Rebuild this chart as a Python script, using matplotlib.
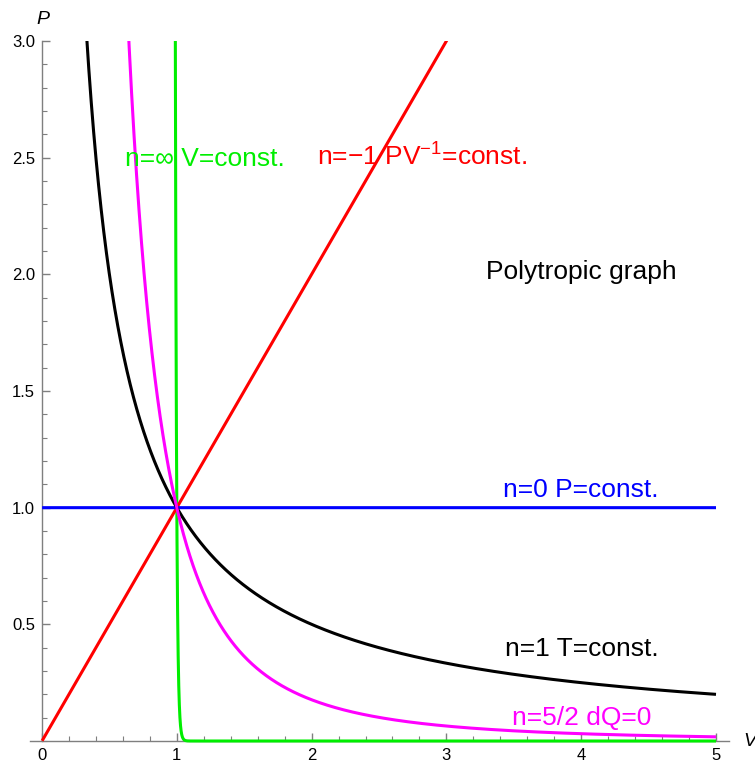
import numpy as np
import matplotlib
matplotlib.use("Agg")
import matplotlib.pyplot as plt
from matplotlib.ticker import MultipleLocator

plt.rcParams['font.family'] = ['Liberation Sans', 'DejaVu Sans']
plt.rcParams['mathtext.fontset'] = 'custom'
plt.rcParams['mathtext.rm'] = 'Liberation Sans'
plt.rcParams['mathtext.it'] = 'Liberation Sans:italic'
plt.rcParams['mathtext.default'] = 'regular'

# Polytropic exponents (P * V^n = const, through (1,1)); n=inf approximated by large n
exponents = [100, -1, 0, 1, 2.5]
colors = ['#00ee00', '#ff0000', '#0000ff', '#000000', '#ff00ff']
labels = ['n=\u221e V=const.', 'n=\u22121 PV$^{-1}$=const.', 'n=0 P=const.',
          'n=1 T=const.', 'n=5/2 dQ=0']
# label anchor (left, baseline) in pixels of the 755x765 figure
label_px = [(125, 166), (317, 166), (503, 497), (505, 656), (512, 725)]

title_text = 'Polytropic graph'
title_px = (486, 279)

x_ticks = [0, 1, 2, 3, 4, 5]
y_ticks = [0.5, 1.0, 1.5, 2.0, 2.5, 3.0]

W, H = 755, 765
fig = plt.figure(figsize=(W / 100, H / 100), dpi=100)
x0px, xs = 42, 134.8
y0px, ys = 741, 233.33
xmin, xmax = -0.09, 5.1
ymin, ymax = -0.05, 3.0
left = (x0px + xs * xmin) / W
right = (x0px + xs * xmax) / W
bottom = 1 - (y0px - ys * ymin) / H
top = 1 - (y0px - ys * ymax) / H
ax = fig.add_axes([left, bottom, right - left, top - bottom])
ax.set_xlim(xmin, xmax)
ax.set_ylim(ymin, ymax)

V = np.concatenate([np.linspace(0.001, 0.97, 2000), np.linspace(0.97, 1.2, 6000),
                    np.linspace(1.2, 5, 2000)])
for n, c in zip(exponents, colors):
    with np.errstate(over='ignore'):
        P = V ** (-float(n))
    P = np.where(P > 3.5, np.nan, P) if n > 0 else P
    ax.plot(V, P, color=c, lw=2.2, solid_capstyle='butt', zorder=3)

gray = '#7f7f7f'
for s in ['top', 'right']:
    ax.spines[s].set_visible(False)
ax.spines['left'].set_position(('data', 0))
ax.spines['bottom'].set_position(('data', 0))
ax.spines['left'].set_bounds(0, 3)
ax.spines['bottom'].set_bounds(xmin, xmax)
for s in ['left', 'bottom']:
    ax.spines[s].set_color(gray)
    ax.spines[s].set_linewidth(1.0)
    ax.spines[s].set_zorder(1)

ax.set_xticks(x_ticks)
ax.set_xticklabels([str(t) for t in x_ticks])
ax.set_yticks(y_ticks)
ax.set_yticklabels([f'{t:.1f}' for t in y_ticks])
ax.xaxis.set_minor_locator(MultipleLocator(0.2))
ax.yaxis.set_minor_locator(MultipleLocator(0.1))
ax.tick_params(which='major', direction='in', length=6, width=1, color=gray,
               labelsize=12, labelcolor='black', pad=5)
ax.tick_params(which='minor', direction='in', length=3.5, width=0.8, color=gray)
ax.patch.set_visible(False)

for lab, (px, py), c in zip(labels, label_px, colors):
    fig.text(px / W, 1 - py / H, lab, color=c, fontsize=19, ha='left', va='baseline')
fig.text(title_px[0] / W, 1 - title_px[1] / H, title_text, color='black',
         fontsize=19, ha='left', va='baseline')

fig.text(43 / W, 1 - 19 / H, 'P', fontsize=14, style='italic', ha='center', va='center')
fig.text(750 / W, 1 - 741 / H, 'V', fontsize=14, style='italic', ha='center', va='center')

fig.savefig('out.png', dpi=100)
